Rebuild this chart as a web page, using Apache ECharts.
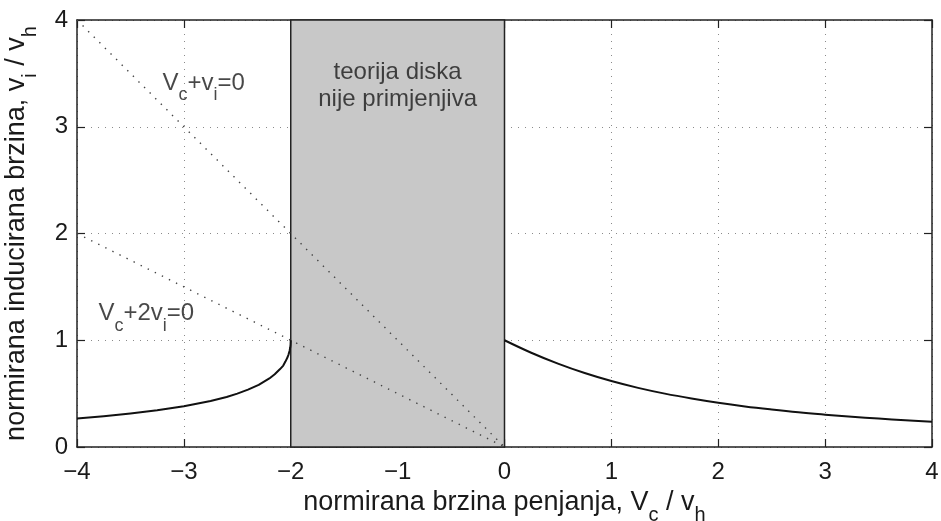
<!DOCTYPE html>
<html>
<head>
<meta charset="utf-8">
<script src="https://cdn.jsdelivr.net/npm/echarts@6/dist/echarts.min.js"></script>
<style>
html,body{margin:0;padding:0;background:#fff;}
#chart{width:941px;height:521px;}
</style>
</head>
<body>
<div id="chart"></div>
<script>
// ---- data ----
const xTickLabels = ['\u22124','\u22123','\u22122','\u22121','0','1','2','3','4'];
const yTickLabels = ['0','1','2','3','4'];

// descent branch (windmill-brake side), Vc/vh <= -2
const descentX = [-4, -3.75, -3.5, -3.25, -3, -2.75, -2.6, -2.5, -2.4, -2.3, -2.2, -2.15, -2.1, -2.07, -2.05, -2.03, -2.02, -2.01, -2.005, -2.002, -2.001, -2];
const descentY = [0.268, 0.289, 0.314, 0.344, 0.382, 0.431, 0.469, 0.5, 0.537, 0.582, 0.642, 0.681, 0.730, 0.763, 0.800, 0.841, 0.868, 0.905, 0.932, 0.956, 0.969, 1.0];

// climb branch, Vc/vh >= 0
const climbX = [0, 0.25, 0.5, 0.75, 1, 1.25, 1.5, 1.75, 2, 2.25, 2.5, 2.75, 3, 3.25, 3.5, 3.75, 4];
const climbY = [1.0, 0.883, 0.781, 0.693, 0.618, 0.554, 0.5, 0.454, 0.414, 0.380, 0.351, 0.325, 0.303, 0.283, 0.266, 0.250, 0.236];

// reference lines
const lineVcVi = [[-4, 4], [0, 0]];      // Vc + vi = 0
const lineVc2Vi = [[-4, 2], [0, 0]];     // Vc + 2vi = 0

// region where disk theory is not applicable
const invalidRegion = [-2, 0];

const FONT = '"Liberation Sans", Arial, Helvetica, sans-serif';
const TXT = '#1a1a1a';

const zip = (xs, ys) => xs.map((x, i) => [x, ys[i]]);

const richStyles = (size, subScale, drop) => ({
  n: {fontSize: size, fontFamily: FONT, color: TXT},
  s: {fontSize: Math.round(size * subScale), fontFamily: FONT, color: TXT, padding: [drop * 2, 0, 0, 0]}
});

const chart = echarts.init(document.getElementById('chart'), null, {renderer: 'canvas'});

const frameAxisCommon = {
  type: 'value',
  axisLine: {show: true, onZero: false, lineStyle: {color: '#222', width: 1.5}},
  axisTick: {show: true, inside: true, length: 8, lineStyle: {color: '#222', width: 1.2}},
};

const option = {
  backgroundColor: '#fff',
  animation: false,
  grid: {left: 77, right: 9, top: 20, bottom: 74, containLabel: false, outerBoundsMode: 'none'},
  xAxis: [
    Object.assign({}, frameAxisCommon, {
      position: 'bottom', min: -4, max: 4, interval: 1,
      axisLabel: {
        show: true, margin: 13, fontSize: 24, fontFamily: FONT, color: TXT,
        formatter: (v) => xTickLabels[Math.round(v) + 4]
      },
      splitLine: {show: true, lineStyle: {color: '#8a8a8a', width: 1, type: [1, 6]}},
      name: '{n|normirana brzina penjanja, V}{s|c}{n| / v}{s|h}',
      nameLocation: 'middle', nameGap: 27,
      nameTextStyle: {rich: richStyles(27, 0.75, 13)}
    }),
    Object.assign({}, frameAxisCommon, {
      position: 'top', min: -4, max: 4, interval: 1,
      axisLabel: {show: false}, splitLine: {show: false}
    })
  ],
  yAxis: [
    Object.assign({}, frameAxisCommon, {
      position: 'left', min: 0, max: 4, interval: 1,
      axisLabel: {
        show: true, margin: 9, fontSize: 24, fontFamily: FONT, color: TXT,
        formatter: (v) => yTickLabels[Math.round(v)]
      },
      splitLine: {show: true, lineStyle: {color: '#8a8a8a', width: 1, type: [1, 6]}},
      name: '{n|normirana inducirana brzina, v}{s|i}{n| / v}{s|h}',
      nameLocation: 'middle', nameGap: 37,
      nameTextStyle: {rich: richStyles(27, 0.75, 13)}
    }),
    Object.assign({}, frameAxisCommon, {
      position: 'right', min: 0, max: 4, interval: 1,
      axisLabel: {show: false}, splitLine: {show: false}
    })
  ],
  series: [
    {
      name: 'region', type: 'line', data: [], z: 3,
      markArea: {
        silent: true,
        itemStyle: {color: '#c8c8c8', borderColor: '#222', borderWidth: 1.5},
        data: [[{xAxis: invalidRegion[0], yAxis: 0}, {xAxis: invalidRegion[1], yAxis: 4}]]
      }
    },
    {
      name: 'Vc+vi=0', type: 'line', data: lineVcVi, z: 5, symbol: 'none',
      lineStyle: {color: '#444', width: 1.4, type: [1.4, 6.5]}
    },
    {
      name: 'Vc+2vi=0', type: 'line', data: lineVc2Vi, z: 5, symbol: 'none',
      lineStyle: {color: '#444', width: 1.4, type: [1.4, 6.5]}
    },
    {
      name: 'descent', type: 'line', data: zip(descentX, descentY), z: 6, symbol: 'none',
      smooth: false,
      lineStyle: {color: '#111', width: 2, join: 'round'}
    },
    {
      name: 'climb', type: 'line', data: zip(climbX, climbY), z: 6, symbol: 'none',
      smooth: 0.4,
      lineStyle: {color: '#111', width: 2, join: 'round'}
    },
    {
      name: 'labels', type: 'scatter', symbolSize: 0, z: 7, silent: true,
      data: [
        {value: [-1, 3.38], label: {show: true, position: 'inside', align: 'center', verticalAlign: 'middle',
          formatter: 'teorija diska\nnije primjenjiva', fontSize: 24, lineHeight: 27, fontFamily: FONT, color: TXT}},
        {value: [-3.2, 3.41], label: {show: true, position: 'inside', align: 'left', verticalAlign: 'middle',
          formatter: '{n|V}{s|c}{n|+v}{s|i}{n|=0}', rich: richStyles(24, 0.75, 12)}},
        {value: [-3.8, 1.25], label: {show: true, position: 'inside', align: 'left', verticalAlign: 'middle',
          formatter: '{n|V}{s|c}{n|+2v}{s|i}{n|=0}', rich: richStyles(24, 0.75, 12)}}
      ]
    }
  ]
};
chart.setOption(option);
</script>
</body>
</html>
